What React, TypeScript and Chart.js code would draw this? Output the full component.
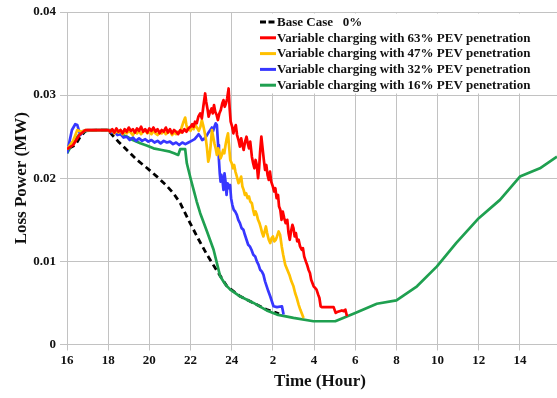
import React, { useEffect, useRef } from 'react';
import { Chart, registerables } from 'chart.js';

Chart.register(...registerables);

// ---- axis ticks ----
const xTickValues = [16, 18, 20, 22, 24, 26, 28, 30, 32, 34, 36, 38];
const xTickLabels = ['16', '18', '20', '22', '24', '2', '4', '6', '8', '10', '12', '14'];
const yTickValues = [0, 0.01, 0.02, 0.03, 0.04];
const yTickLabels = ['0', '0.01', '0.02', '0.03', '0.04'];

const seriesLabels = [
  'Base Case   0%',
  'Variable charging with 63% PEV penetration',
  'Variable charging with 47% PEV penetration',
  'Variable charging with 32% PEV penetration',
  'Variable charging with 16% PEV penetration',
];

// ---- Base case (0%) ----
const baseX = [16.1, 16.4, 16.65, 16.9, 17.5, 18.0, 18.2, 18.5, 18.91, 19.4, 19.9, 20.37, 20.8, 21.17, 21.5, 21.98, 22.4, 22.8, 23.3, 23.77, 24.41, 25.06, 25.7, 26.3];
const baseY = [0.0236, 0.024, 0.025, 0.0257, 0.0258, 0.0258, 0.0252, 0.0244, 0.0234, 0.0222, 0.0212, 0.0202, 0.0192, 0.0182, 0.017, 0.0146, 0.0126, 0.0108, 0.0088, 0.007, 0.0058, 0.005, 0.0042, 0.0037];

// ---- 63% ----
const redX = [16, 16.3, 16.6, 16.9, 17.5,
  18.0, 18.1, 18.2, 18.3, 18.4, 18.5, 18.6, 18.7, 18.8, 18.9, 19.0, 19.1, 19.2, 19.3, 19.4, 19.5, 19.6, 19.7, 19.8, 19.9,
  20.0, 20.1, 20.2, 20.3, 20.4, 20.5, 20.6, 20.7, 20.8, 20.9, 21.0, 21.1, 21.2, 21.3, 21.4, 21.5, 21.6, 21.7, 21.8, 21.9, 22.0,
  22.08, 22.15, 22.22, 22.3, 22.38, 22.47, 22.55, 22.62, 22.71, 22.76, 22.82, 22.88, 22.95, 23.02, 23.08, 23.14, 23.2, 23.27, 23.33, 23.4,
  23.47, 23.54, 23.6, 23.66, 23.72, 23.78, 23.85, 23.9, 23.95, 24.02, 24.08, 24.14, 24.2, 24.26, 24.33, 24.4, 24.46, 24.52, 24.58, 24.65,
  24.72, 24.78, 24.84, 24.9, 24.98, 25.04, 25.1, 25.16, 25.22, 25.28, 25.33, 25.38, 25.44, 25.5, 25.56, 25.62, 25.68, 25.74, 25.8, 25.86,
  25.92, 26.0, 26.06, 26.12, 26.18, 26.25, 26.3, 26.36, 26.42, 26.48, 26.55, 26.62, 26.7, 26.76, 26.82, 26.88, 26.95, 27.0, 27.06, 27.12,
  27.18, 27.25, 27.32, 27.4, 27.46, 27.52, 27.6, 27.66, 27.73, 27.8, 27.86, 27.92, 27.98, 28.05, 28.12, 28.2, 28.26, 28.32, 28.38, 28.95,
  29.05, 29.12, 29.35, 29.45, 29.52, 29.6];
const redY = [0.0235, 0.024, 0.0252, 0.0258, 0.0258,
  0.0258, 0.0256, 0.0259, 0.0255, 0.026, 0.0256, 0.0258, 0.0254, 0.0259, 0.0256, 0.0261, 0.0257, 0.0259, 0.0255, 0.026, 0.0257, 0.0262, 0.0256, 0.0259, 0.0255,
  0.026, 0.0257, 0.0261, 0.0256, 0.0259, 0.0254, 0.0258, 0.0256, 0.0261, 0.0255, 0.0259, 0.0254, 0.0258, 0.0256, 0.0253, 0.0258, 0.0255, 0.0259, 0.0256, 0.026, 0.0262,
  0.0265, 0.0262, 0.0268, 0.0266, 0.0274, 0.0278, 0.0272, 0.0286, 0.0302, 0.0292, 0.0284, 0.0274, 0.028, 0.0284, 0.0278, 0.0288, 0.028, 0.0276, 0.027, 0.0278,
  0.0282, 0.029, 0.0294, 0.0286, 0.029, 0.0296, 0.0308, 0.0284, 0.0268, 0.0262, 0.0254, 0.026, 0.0264, 0.0252, 0.0246, 0.0238, 0.0248, 0.024, 0.0234, 0.0244,
  0.025, 0.0242, 0.0236, 0.0244, 0.0226, 0.0218, 0.0212, 0.0222, 0.0216, 0.02, 0.0212, 0.0232, 0.025, 0.0236, 0.0222, 0.021, 0.0216, 0.0204, 0.0198, 0.0208,
  0.0196, 0.019, 0.0184, 0.0188, 0.0176, 0.018, 0.0166, 0.0162, 0.015, 0.016, 0.0152, 0.0146, 0.015, 0.0134, 0.0126, 0.0136, 0.0144, 0.014, 0.013, 0.0134,
  0.0124, 0.0126, 0.0118, 0.0114, 0.0116, 0.0106, 0.01, 0.0096, 0.009, 0.0086, 0.0078, 0.0074, 0.007, 0.0068, 0.0066, 0.006, 0.0056, 0.0046, 0.0045, 0.0045,
  0.0038, 0.0039, 0.0041, 0.004, 0.0042, 0.0034];

// ---- 47% ----
const yellowX = [16, 16.3, 16.5, 16.7, 16.9, 17.5,
  18.0, 18.1, 18.2, 18.3, 18.4, 18.5, 18.6, 18.7, 18.8, 18.9, 19.0, 19.1, 19.2, 19.3, 19.4, 19.5, 19.6, 19.7, 19.8, 19.9,
  20.0, 20.1, 20.2, 20.3, 20.4, 20.5, 20.6, 20.7, 20.8, 20.9, 21.0, 21.1, 21.2, 21.3, 21.4, 21.5, 21.58, 21.66, 21.74, 21.8,
  21.87, 21.94, 22.0, 22.08, 22.15, 22.23, 22.31, 22.4, 22.48, 22.55, 22.62, 22.68, 22.74, 22.8, 22.86, 22.92, 22.98, 23.04, 23.1, 23.16,
  23.22, 23.28, 23.34, 23.4, 23.46, 23.52, 23.58, 23.64, 23.7, 23.76, 23.82, 23.88, 23.93, 24.0, 24.06, 24.12, 24.18, 24.25, 24.33, 24.4,
  24.46, 24.52, 24.58, 24.64, 24.7, 24.77, 24.84, 24.9, 24.98, 25.04, 25.1, 25.16, 25.22, 25.28, 25.35, 25.42, 25.48, 25.54, 25.6, 25.66,
  25.72, 25.8, 25.87, 25.94, 26.0, 26.07, 26.14, 26.2, 26.28, 26.35, 26.43, 26.5, 26.6, 26.7, 26.8, 26.9, 27.0, 27.08, 27.16, 27.25,
  27.33, 27.41, 27.49];
const yellowY = [0.0235, 0.0245, 0.0258, 0.0256, 0.0258, 0.0258,
  0.0258, 0.0256, 0.0258, 0.0254, 0.0257, 0.0255, 0.0258, 0.0253, 0.0256, 0.0254, 0.0257, 0.0255, 0.0252, 0.0256, 0.0254, 0.0257, 0.0253, 0.0256, 0.0258, 0.0254,
  0.0256, 0.0253, 0.0257, 0.0254, 0.0252, 0.0256, 0.0254, 0.0257, 0.0253, 0.0255, 0.0257, 0.0252, 0.0255, 0.0253, 0.0256, 0.0255, 0.0262, 0.0268, 0.0273, 0.0264,
  0.0258, 0.0261, 0.0257, 0.0262, 0.0259, 0.0264, 0.0261, 0.0257, 0.0262, 0.027, 0.0263, 0.0256, 0.0248, 0.0236, 0.022, 0.0226, 0.024, 0.0258, 0.025, 0.0242,
  0.0236, 0.0228, 0.0236, 0.0232, 0.0224, 0.0228, 0.0234, 0.023, 0.024, 0.0248, 0.0254, 0.0236, 0.0222, 0.0218, 0.0212, 0.0216, 0.0208, 0.0202, 0.0194, 0.0198,
  0.0202, 0.019, 0.0186, 0.018, 0.0182, 0.0176, 0.0178, 0.0172, 0.017, 0.0162, 0.0156, 0.016, 0.0156, 0.015, 0.0146, 0.014, 0.0134, 0.013, 0.0136, 0.0142,
  0.0134, 0.0126, 0.0122, 0.0128, 0.013, 0.0124, 0.0126, 0.013, 0.0136, 0.0132, 0.0118, 0.0108, 0.0096, 0.009, 0.0084, 0.0076, 0.007, 0.0062, 0.0056, 0.0048,
  0.0042, 0.0037, 0.0032];

// ---- 32% ----
const blueX = [16, 16.24, 16.4, 16.5, 16.65, 16.8, 17.0, 17.5,
  18.0, 18.15, 18.3, 18.45, 18.6, 18.75, 18.9, 19.05, 19.2, 19.35, 19.5, 19.65, 19.8, 19.95, 20.1, 20.25, 20.4, 20.55, 20.7, 20.85,
  21.0, 21.15, 21.3, 21.45, 21.6, 21.75, 21.9, 22.05, 22.2, 22.3, 22.39, 22.48, 22.56, 22.65, 22.75, 22.85, 22.96, 23.04, 23.1, 23.16,
  23.22, 23.28, 23.34, 23.38, 23.42, 23.46, 23.5, 23.55, 23.6, 23.65, 23.7, 23.75, 23.8, 23.86, 23.92, 23.97, 24.03, 24.1, 24.17, 24.25,
  24.32, 24.4, 24.48, 24.57, 24.64, 24.72, 24.8, 24.88, 24.96, 25.05, 25.14, 25.22, 25.3, 25.38, 25.46, 25.54, 25.62, 25.7, 25.78, 25.87,
  25.95, 26.03, 26.2, 26.44, 26.52];
const blueY = [0.023, 0.0258, 0.0265, 0.0264, 0.0252, 0.0257, 0.0258, 0.0258,
  0.0258, 0.0255, 0.0256, 0.0252, 0.0253, 0.0249, 0.025, 0.0246, 0.0249, 0.0245, 0.0248, 0.0245, 0.0247, 0.0244, 0.0246, 0.0243, 0.0245, 0.0242, 0.0245, 0.0243,
  0.0244, 0.0241, 0.0243, 0.024, 0.0243, 0.0241, 0.0243, 0.0245, 0.0247, 0.025, 0.0253, 0.025, 0.0246, 0.0247, 0.025, 0.0254, 0.0258, 0.0261, 0.0257, 0.0262,
  0.0266, 0.0264, 0.024, 0.0222, 0.0206, 0.0196, 0.0204, 0.0198, 0.0186, 0.0206, 0.0196, 0.018, 0.0194, 0.0188, 0.0192, 0.0176, 0.0168, 0.0162, 0.016, 0.0156,
  0.015, 0.0146, 0.014, 0.0138, 0.0132, 0.0126, 0.012, 0.0118, 0.0114, 0.0108, 0.0106, 0.01, 0.0096, 0.009, 0.0088, 0.0084, 0.0076, 0.007, 0.0064, 0.0058,
  0.0052, 0.0046, 0.0045, 0.0046, 0.0036];

// ---- 16% ----
const greenX = [16, 16.32, 16.57, 16.89, 17.5, 18.1, 18.5, 18.91, 19.2, 19.56, 19.9, 20.2, 20.6, 21.0, 21.2, 21.4, 21.5, 21.74, 21.82, 22.0, 22.15, 22.3, 22.47, 22.8, 23.12, 23.44, 23.7, 23.93, 24.4, 25.06, 25.7, 26.2, 27.0, 27.97, 29.03, 30.0, 31.05, 32.0, 33.0, 33.97, 34.9, 36.0, 37.03, 38.0, 38.97, 39.8];
const greenY = [0.023, 0.0244, 0.0252, 0.0257, 0.0258, 0.0258, 0.0254, 0.025, 0.0246, 0.0242, 0.0239, 0.0236, 0.0234, 0.0232, 0.023, 0.0228, 0.0235, 0.0235, 0.0218, 0.02, 0.0186, 0.0172, 0.0158, 0.0136, 0.0114, 0.0082, 0.0072, 0.0066, 0.0058, 0.005, 0.0041, 0.0036, 0.0032, 0.0028, 0.0028, 0.0038, 0.0049, 0.0053, 0.007, 0.0094, 0.0122, 0.0152, 0.0174, 0.0202, 0.0212, 0.0226];

const FONT = "'Liberation Serif', 'Times New Roman', serif";
const GRID = '#c2c2c2';
const TEXT = '#111111';

const colors = ['#000000', '#ff0000', '#ffc000', '#3737ff', '#1fa050'];

const toPts = (xs: number[], ys: number[]) => xs.map((x, i) => ({ x, y: ys[i] }));

const overlayPlugin = {
  id: 'overlay',
  afterDatasetsDraw(chart: any) {
    const ctx = chart.ctx as CanvasRenderingContext2D;
    const area = chart.chartArea;
    ctx.save();
    const bx = area.left + 190;
    const by = area.top + 1.5;
    ctx.fillStyle = '#ffffff';
    ctx.fillRect(bx, by, 280, 80);
    ctx.font = `bold 13px ${FONT}`;
    ctx.textBaseline = 'middle';
    ctx.textAlign = 'left';
    [0, 1, 2, 3, 4].forEach((k, i) => {
      const y = area.top + 10 + i * 15.8;
      const x0 = bx + 3;
      ctx.strokeStyle = colors[k];
      ctx.lineWidth = 3;
      ctx.setLineDash(k === 0 ? [6, 2.5] : []);
      ctx.beginPath();
      ctx.moveTo(x0, y);
      ctx.lineTo(x0 + 16, y);
      ctx.stroke();
      ctx.setLineDash([]);
      ctx.fillStyle = TEXT;
      ctx.fillText(seriesLabels[k], x0 + 17, y + 0.5);
    });
    ctx.restore();
  },
  afterDraw(chart: any) {
    const ctx = chart.ctx as CanvasRenderingContext2D;
    const area = chart.chartArea;
    ctx.save();
    ctx.fillStyle = TEXT;
    ctx.font = `bold 17px ${FONT}`;
    ctx.textAlign = 'center';
    ctx.textBaseline = 'middle';
    ctx.fillText('Time (Hour)', (area.left + area.right) / 2 + 8, area.bottom + 37.5);
    ctx.translate(21.5, (area.top + area.bottom) / 2);
    ctx.rotate(-Math.PI / 2);
    ctx.fillText('Loss Power (MW)', 0, 0);
    ctx.restore();
  },
};

export default function App() {
  const ref = useRef<HTMLCanvasElement | null>(null);

  useEffect(() => {
    document.body.style.margin = '0';
    document.body.style.overflow = 'hidden';
    const canvas = ref.current;
    if (!canvas) return;
    const mk = (label: string, xs: number[], ys: number[], color: string, dashed = false) => ({
      label,
      data: toPts(xs, ys),
      borderColor: color,
      backgroundColor: color,
      borderWidth: dashed ? 2.8 : 2.7,
      borderDash: dashed ? [6, 4] : [],
      pointRadius: 0,
      tension: 0,
      fill: false,
      borderJoinStyle: 'round' as const,
      borderCapStyle: 'butt' as const,
    });
    const chart = new Chart(canvas, {
      type: 'line',
      data: {
        datasets: [
          mk(seriesLabels[1], redX, redY, colors[1]),
          mk(seriesLabels[2], yellowX, yellowY, colors[2]),
          mk(seriesLabels[3], blueX, blueY, colors[3]),
          mk(seriesLabels[4], greenX, greenY, colors[4]),
          mk(seriesLabels[0], baseX, baseY, colors[0], true),
        ],
      },
      options: {
        animation: false,
        responsive: false,
        maintainAspectRatio: false,
        layout: { padding: { top: 12, left: 0, right: 0, bottom: 0 } },
        plugins: {
          legend: { display: false },
          tooltip: { enabled: false },
          title: { display: false },
        },
        scales: {
          x: {
            type: 'linear',
            min: 16,
            max: 39.8,
            afterBuildTicks: (scale: any) => {
              scale.ticks = xTickValues.map((v) => ({ value: v }));
            },
            afterFit: (scale: any) => {
              scale.height = 53.5;
            },
            ticks: {
              autoSkip: false,
              maxRotation: 0,
              padding: 2,
              color: TEXT,
              font: { family: FONT, size: 13, weight: 'bold' },
              callback: (v: any) => {
                const idx = xTickValues.indexOf(Number(v));
                return idx >= 0 ? xTickLabels[idx] : '';
              },
            },
            grid: { color: GRID, lineWidth: 1, drawTicks: true, tickLength: 6, tickColor: GRID },
            border: { display: true, color: GRID, width: 1 },
          },
          y: {
            type: 'linear',
            min: 0,
            max: 0.04,
            afterBuildTicks: (scale: any) => {
              scale.ticks = yTickValues.map((v) => ({ value: v }));
            },
            afterFit: (scale: any) => {
              scale.width = 67;
            },
            ticks: {
              padding: 4,
              color: TEXT,
              font: { family: FONT, size: 13, weight: 'bold' },
              callback: (v: any) => {
                const idx = yTickValues.findIndex((t) => Math.abs(t - Number(v)) < 1e-9);
                return idx >= 0 ? yTickLabels[idx] : '';
              },
            },
            grid: { color: GRID, lineWidth: 1, drawTicks: true, tickLength: 7, tickColor: GRID },
            border: { display: true, color: GRID, width: 1 },
          },
        },
      } as any,
      plugins: [overlayPlugin],
    });
    return () => chart.destroy();
  }, []);

  return (
    <canvas
      ref={ref}
      width={557}
      height={398}
      style={{ display: 'block', width: '557px', height: '398px' }}
    />
  );
}
